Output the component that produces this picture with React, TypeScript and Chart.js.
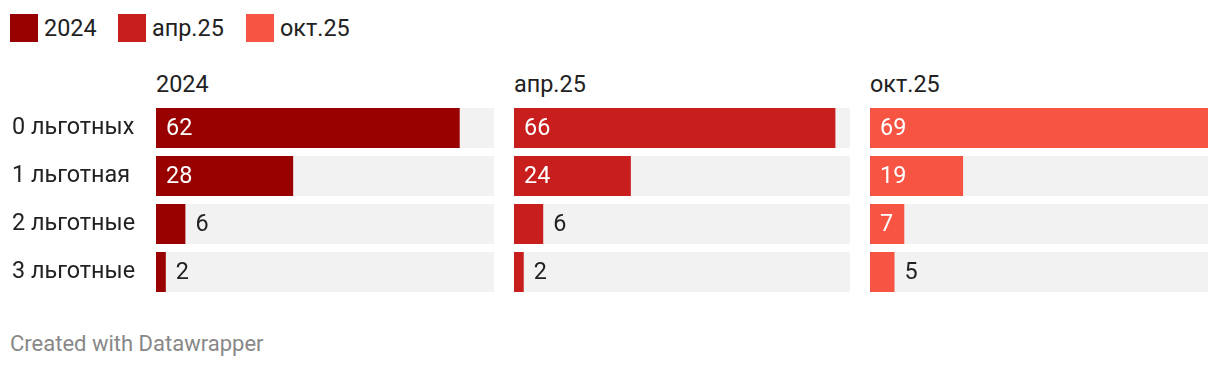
import React, { useEffect, useRef } from "react";
import { Chart, registerables } from "chart.js";

Chart.register(...registerables);

const categories = ["0 льготных", "1 льготная", "2 льготные", "3 льготные"];
const seriesNames = ["2024", "апр.25", "окт.25"];
const values2024 = [62, 28, 6, 2];
const valuesApr25 = [66, 24, 6, 2];
const valuesOct25 = [69, 19, 7, 5];
const seriesValues = [values2024, valuesApr25, valuesOct25];
const seriesColors = ["#990000", "#c91e1e", "#f75443"];

const FONT = "Roboto, 'Noto Sans', sans-serif";
const FS = 23.4;
const MAX = Math.max(...values2024, ...valuesApr25, ...valuesOct25);

const panels = [
  { left: 0, width: 494, axis: true },
  { left: 514, width: 336, axis: false },
  { left: 870, width: 338, axis: false },
];
const CHART_TOP = 104;
const CHART_H = 192;

const valueLabelPlugin = {
  id: "valueLabels",
  afterDatasetsDraw(chart: any) {
    const ctx = chart.ctx;
    const meta = chart.getDatasetMeta(0);
    const data = chart.data.datasets[0].data as number[];
    ctx.save();
    ctx.font = `${FS}px ${FONT}`;
    ctx.textBaseline = "middle";
    ctx.textAlign = "left";
    meta.data.forEach((bar: any, i: number) => {
      const text = String(data[i]);
      const tw = ctx.measureText(text).width;
      const bw = bar.x - bar.base;
      if (tw + 20 <= bw) {
        ctx.fillStyle = "#ffffff";
        ctx.fillText(text, bar.base + 10, bar.y + 1);
      } else {
        ctx.fillStyle = "#222222";
        ctx.fillText(text, bar.x + 10, bar.y + 1);
      }
    });
    ctx.restore();
  },
};

function Panel({ idx }: { idx: number }) {
  const ref = useRef<HTMLCanvasElement>(null);
  const p = panels[idx];
  useEffect(() => {
    if (!ref.current) return;
    const yScale: any = {
      display: p.axis,
      grid: { display: false, drawTicks: false },
      border: { display: false },
      ticks: {
        crossAlign: "far",
        padding: 0,
        color: "#222222",
        font: { family: FONT, size: FS },
      },
    };
    if (p.axis) {
      yScale.afterFit = (scale: any) => {
        scale.width = 144;
        scale.paddingTop = 0;
        scale.paddingBottom = 0;
      };
    }
    const chart = new Chart(ref.current, {
      type: "bar",
      data: {
        labels: categories,
        datasets: [
          {
            label: seriesNames[idx],
            data: seriesValues[idx],
            backgroundColor: seriesColors[idx],
            grouped: false,
            categoryPercentage: 1,
            barPercentage: 40 / 48,
          },
          {
            label: "track",
            data: categories.map(() => MAX),
            backgroundColor: "#f2f2f2",
            grouped: false,
            categoryPercentage: 1,
            barPercentage: 40 / 48,
          },
        ],
      },
      options: {
        indexAxis: "y",
        responsive: false,
        animation: false,
        layout: { padding: { left: p.axis ? 12 : 0, right: 0, top: 0, bottom: 0 }, autoPadding: false },
        plugins: { legend: { display: false }, tooltip: { enabled: false }, title: { display: false } },
        scales: {
          x: { display: false, min: 0, max: MAX },
          y: yScale,
        },
      },
      plugins: [valueLabelPlugin],
    } as any);
    return () => chart.destroy();
  }, [idx]);
  return (
    <>
      <div
        style={{
          position: "absolute",
          left: p.axis ? 156 : p.left,
          top: 70,
          font: `${FS}px ${FONT}`,
          color: "#222",
          lineHeight: "28px",
          whiteSpace: "nowrap",
        }}
      >
        {seriesNames[idx]}
      </div>
      <canvas
        ref={ref}
        width={p.width}
        height={CHART_H}
        style={{ position: "absolute", left: p.left, top: CHART_TOP, width: p.width, height: CHART_H }}
      />
    </>
  );
}

export default function App() {
  const legendX = [10, 118, 246];
  return (
    <div style={{ position: "absolute", left: 0, top: 0, width: 1220, height: 368, background: "#fff", overflow: "hidden" }}>
      {seriesNames.map((n, i) => (
        <div key={n} style={{ position: "absolute", left: legendX[i], top: 14, height: 28, display: "flex", alignItems: "center", whiteSpace: "nowrap" }}>
          <span style={{ display: "inline-block", width: 28, height: 28, background: seriesColors[i] }} />
          <span style={{ marginLeft: 6, font: `${FS}px ${FONT}`, color: "#222" }}>{n}</span>
        </div>
      ))}
      <Panel idx={0} />
      <Panel idx={1} />
      <Panel idx={2} />
      <div style={{ position: "absolute", left: 10, top: 331, font: `22px ${FONT}`, color: "#888", whiteSpace: "nowrap", lineHeight: "26px" }}>
        Created with Datawrapper
      </div>
    </div>
  );
}
